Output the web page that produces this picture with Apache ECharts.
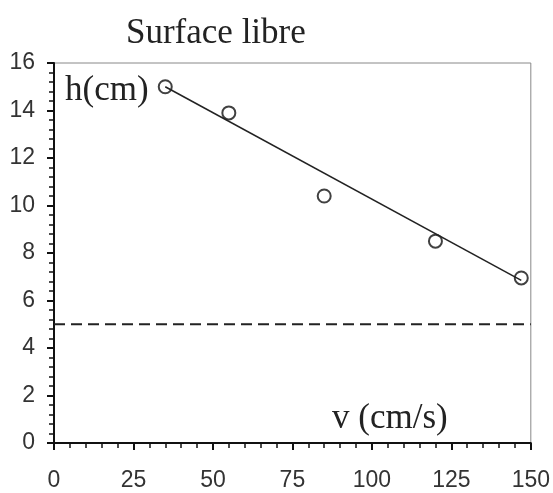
<!DOCTYPE html>
<html>
<head>
<meta charset="utf-8">
<title>Surface libre</title>
<script src="https://cdn.jsdelivr.net/npm/echarts@6/dist/echarts.min.js"></script>
</head>
<body style="margin:0;background:#fff;">
<div id="main" style="width:553px;height:493px;"></div>
<script type="text/javascript">
// points mesurés: v (cm/s), h (cm)
var vData = [35, 55, 85, 120, 147];
var hData = [15.0, 13.9, 10.4, 8.5, 6.95];
// droite tracée (extrémités)
var fitV = [35, 147];
var fitH = [15.0, 6.85];
// niveau en pointillé
var levelV = [0, 150];
var levelH = [5, 5];

var pts = vData.map(function (v, i) { return [v, hData[i]]; });
var fit = fitV.map(function (v, i) { return [v, fitH[i]]; });
var level = levelV.map(function (v, i) { return [v, levelH[i]]; });

var serif = '"Liberation Serif", "DejaVu Serif", serif';
var sans = '"Liberation Sans", Arial, sans-serif';

var chart = echarts.init(document.getElementById('main'));
var option = {
    backgroundColor: '#fff',
    animation: false,
    title: {
        text: 'Surface libre',
        left: 121,
        top: 11,
        textStyle: { fontFamily: serif, fontSize: 35, fontWeight: 'normal', color: '#222' }
    },
    grid: {
        left: 54, right: 21, top: 63, bottom: 50,
        show: true, borderColor: '#888', borderWidth: 1
    },
    xAxis: {
        type: 'value', min: 0, max: 150, interval: 25,
        axisLine: { lineStyle: { color: '#111', width: 2 } },
        axisTick: { length: 7, lineStyle: { color: '#111', width: 2 } },
        minorTick: { show: true, splitNumber: 5, length: 5, lineStyle: { color: '#111', width: 1.5 } },
        splitLine: { show: false },
        axisLabel: { fontFamily: sans, fontSize: 23, color: '#333', margin: 26 }
    },
    yAxis: {
        type: 'value', min: 0, max: 16, interval: 2,
        axisLine: { show: true, lineStyle: { color: '#111', width: 2 } },
        axisTick: { show: true, length: 7, lineStyle: { color: '#111', width: 2 } },
        minorTick: { show: true, splitNumber: 5, length: 5, lineStyle: { color: '#111', width: 1.5 } },
        splitLine: { show: false },
        axisLabel: { fontFamily: sans, fontSize: 23, color: '#333', margin: 19 }
    },
    graphic: [
        { type: 'text', left: 65, top: 73, style: { text: 'h(cm)', font: '35px ' + serif, fill: '#222' } },
        { type: 'text', left: 332, top: 401, style: { text: 'v (cm/s)', font: '35px ' + serif, fill: '#222' } }
    ],
    series: [
        {
            type: 'line', data: level, symbol: 'none',
            lineStyle: { color: '#222', width: 2, type: [11, 6] }
        },
        {
            type: 'line', data: fit, symbol: 'none',
            lineStyle: { color: '#222', width: 1.5 }
        },
        {
            type: 'scatter', data: pts, symbol: 'circle', symbolSize: 13,
            itemStyle: { color: '#fff', borderColor: '#111', borderWidth: 2 }
        }
    ]
};
chart.setOption(option);
</script>
</body>
</html>
